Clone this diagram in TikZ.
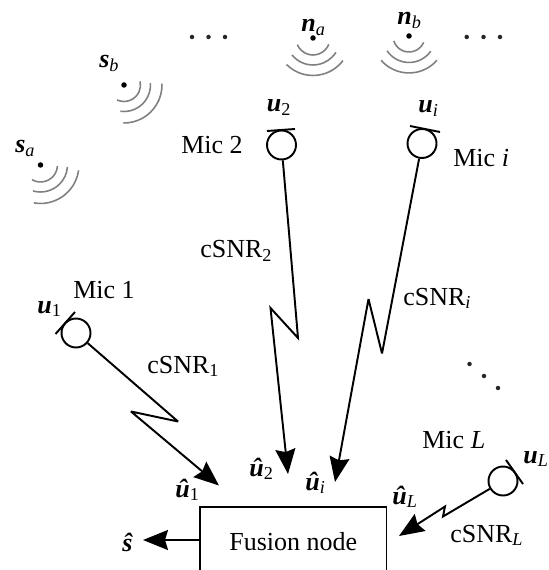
\documentclass[tikz,border=0pt]{standalone}
\usepackage{amsmath}
\usepackage{fontspec}
\setmainfont{Liberation Serif}
\usetikzlibrary{arrows.meta}
\newcommand{\bvec}[1]{\textbf{\textit{#1}}}
\newcommand{\bsub}[2]{\bvec{#1}$_{\text{#2}}$}
\begin{document}
\begin{tikzpicture}[x=0.02cm,y=-0.02cm,font=\fontsize{14.8}{18}\selectfont]
    \tikzset{
      lab/.style={anchor=base west,inner sep=0pt},
      source/.style={circle,fill=black,inner sep=0pt,minimum size=0.11cm},
      dotmark/.style={circle,fill=black!85,inner sep=0pt,minimum size=0.09cm},
      wave/.style={draw=black!50,line width=0.9pt},
      mic/.style={circle,draw=black,line width=1.1pt,inner sep=0pt,minimum size=0.58cm},
      bar/.style={line width=1.1pt},
      link/.style={line width=1.1pt,miter limit=4,-{Stealth[length=0.5cm,width=0.4cm,inset=0.06cm]}}
    }
    \useasboundingbox (0,0) rectangle (548,570);

    % sources and noise
    \node[source] (sa) at (40.5,165) {};
    \node[source] (sb) at (124,85) {};
    \node[source] (na) at (313,38) {};
    \node[source] (nb) at (409,36) {};
    \foreach \src/\rad/\from/\to in {
      sa/0.34cm/-120/-3, sa/0.54cm/-106/-4, sa/0.77cm/-100/-8,
      sb/0.33cm/-115/13, sb/0.53cm/-98/4, sb/0.76cm/-91/2,
      na/0.34cm/-157/-22, na/0.54cm/-141/-32, na/0.75cm/-135/-37,
      nb/0.32cm/-162/-23, nb/0.53cm/-146/-35, nb/0.74cm/-139/-41}
      \draw[wave] (\src) ++(\from:\rad) arc[start angle=\from,end angle=\to,radius=\rad];

    \node[lab] (lsa) at (15,153) {\bsub{s}{\textit{a}}};
    \node[lab] (lsb) at (99,68) {\bsub{s}{\textit{b}}};
    \node[lab] (lna) at (301,32) {\bsub{n}{\textit{a}}};
    \node[lab] (lnb) at (397,25) {\bsub{n}{\textit{b}}};

    % dots
    \foreach \x/\y in {192/37,208.5/37,225/37,466.7/37,483.5/37,500/37,469.5/364,484/376,498/388}
      \node[dotmark] at (\x,\y) {};

    % microphones
    \node[mic] (mic1) at (76,333) {};
    \node[mic] (mic2) at (281.5,145) {};
    \node[mic] (mici) at (422,143.5) {};
    \node[mic] (micL) at (503,481) {};
    \draw[bar] (55.5,334) -- (75,312);
    \draw[bar] (267,131) -- (295,129);
    \draw[bar] (410,126) -- (440,132);
    \draw[bar] (506,460) -- (523,484);

    \node[lab] (lu1) at (37,313) {\bsub{u}{1}};
    \node[lab] (lu2) at (266.5,112) {\bsub{u}{2}};
    \node[lab] (lui) at (418,113) {\bsub{u}{\textit{i}}};
    \node[lab] (luL) at (523,463) {\bsub{u}{\textit{L}}};
    \node[lab] (lm1) at (73,298) {Mic 1};
    \node[lab] (lm2) at (181,154) {Mic 2};
    \node[lab] (lmi) at (453,167) {Mic \textit{i}};
    \node[lab] (lmL) at (422,448) {Mic \textit{L}};

    % fusion node
    \node[draw,line width=1.1pt,minimum width=3.73cm,minimum height=1.4cm,inner sep=0pt] (fusion) at (293.25,542) {Fusion node};

    % links
    \coordinate (a1) at (178,421.5);
    \coordinate (b1) at (131,411.5);
    \coordinate (t1) at (219,485.5);
    \coordinate (a2) at (298,338);
    \coordinate (b2) at (270.5,308);
    \coordinate (t2) at (288,474);
    \coordinate (ai) at (382,353.5);
    \coordinate (bi) at (368.5,299);
    \coordinate (ti) at (335,482);
    \coordinate (aL) at (443,516.5);
    \coordinate (bL) at (445,506.5);
    \coordinate (tL) at (399,536);
    \coordinate (ts) at (143,540);
    \draw[link] (mic1) -- (a1) -- (b1) -- (t1);
    \draw[link] (mic2) -- (a2) -- (b2) -- (t2);
    \draw[link] (mici) -- (ai) -- (bi) -- (ti);
    \draw[link] (micL) -- (aL) -- (bL) -- (tL);
    \draw[link] (ts -| fusion.west) -- (ts);

    \node[lab] (lc1) at (147,373) {cSNR$_{\text{1}}$};
    \node[lab] (lc2) at (200,258) {cSNR$_{\text{2}}$};
    \node[lab] (lci) at (403,305) {cSNR$_{\text{\textit{i}}}$};
    \node[lab] (lcL) at (450,542) {cSNR$_{\text{\textit{L}}}$};

    \node[lab] (lh1) at (175,497) {\bsub{\^u}{1}};
    \node[lab] (lh2) at (249,476) {\bsub{\^u}{2}};
    \node[lab] (lhi) at (305,490) {\bsub{\^u}{\textit{i}}};
    \node[lab] (lhL) at (392,504) {\bsub{\^u}{\textit{L}}};
    \node[lab] (lhs) at (122,551) {\bvec{\^s}};
\end{tikzpicture}
\end{document}
